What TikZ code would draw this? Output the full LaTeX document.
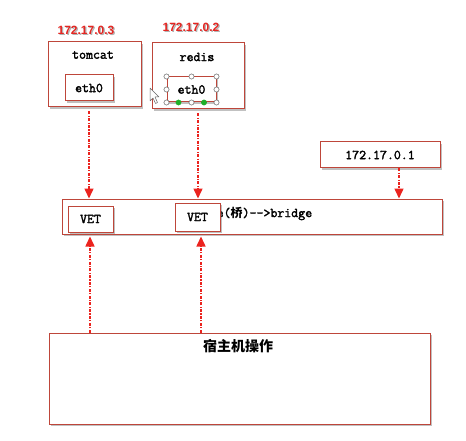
\documentclass[tikz,border=0pt]{standalone}
\usepackage{fontspec}
\setsansfont{Liberation Sans}
\newfontfamily\cjkf{Noto Sans CJK SC}
\newfontfamily\monob{Latin Modern Mono}[FakeBold=2.2]
\usetikzlibrary{shadows,arrows.meta}
\definecolor{bord}{RGB}{190,70,58}
\definecolor{arred}{RGB}{235,35,30}
\definecolor{iptext}{RGB}{228,38,34}
\definecolor{handlegreen}{RGB}{30,175,40}
\begin{document}
\begin{tikzpicture}[x=1pt,y=-1pt,
  box/.style={draw=bord, line width=1pt, fill=white, inner sep=0pt,
    drop shadow={shadow xshift=1.6pt, shadow yshift=-1.6pt, opacity=0.35, fill=black!70}},
  mono/.style={font=\monob\fontsize{13.5}{15}\selectfont, inner sep=0pt},
  iplbl/.style={font=\sffamily\bfseries\fontsize{12}{14}\selectfont, text=iptext, inner sep=0pt},
  ipshadow/.style={font=\sffamily\bfseries\fontsize{12}{14}\selectfont, text=black!30, inner sep=0pt},
  arr/.style={draw=arred, line width=1.5pt, dash pattern=on 3pt off 1.3pt on 1.2pt off 1.3pt,
    -{Triangle[length=10pt,width=9pt]}},
  handle/.style={draw=black!60, fill=white, line width=0.5pt},
  ghandle/.style={draw=handlegreen, fill=handlegreen, line width=0.5pt}]
\useasboundingbox (0,0) rectangle (466,441);

% IP labels
\node[ipshadow] at (87.2,31.2) {172.17.0.3};
\node[iplbl] (ip3) at (86,30) {172.17.0.3};
\node[ipshadow] at (192.2,28.2) {172.17.0.2};
\node[iplbl] (ip2) at (191,27) {172.17.0.2};

% tomcat container
\node[box, minimum width=93pt, minimum height=65pt] (tomcat) at (94.5,74.5) {};
\node[mono] (tomcatlbl) at (93,55) {tomcat};
\node[box, minimum width=48pt, minimum height=26pt] (teth) at (89,88) {};
\node[mono] (tethlbl) at (teth) {eth0};

% redis container
\node[box, minimum width=92pt, minimum height=66pt] (redis) at (198,76) {};
\node[mono] (redislbl) at (197,57) {redis};
\node[box, minimum width=49pt, minimum height=25pt] (reth) at (191.5,89.5) {};
\node[mono] (rethlbl) at (reth) {eth0};
\foreach \p in {north west,north,north east,west,east,south west,south,south east}
  \draw[handle] (reth.\p) circle (2.6pt);
\draw[ghandle] ([xshift=-13pt]reth.south) circle (2.6pt);
\draw[ghandle] ([xshift=12.5pt]reth.south) circle (2.6pt);

% mouse cursor
\draw[draw=black!60, fill=white, line width=0.5pt, line join=round]
  (150,88) -- (150,101) -- (153,98) -- (155.5,103.5) -- (157.5,102.5) -- (155,97) -- (159,97) -- cycle;

% gateway
\node[box, minimum width=120pt, minimum height=26pt] (gw) at (380,155) {};
\node[mono] (gwlbl) at (gw) {172.17.0.1};

% bridge
\node[box, minimum width=380pt, minimum height=35pt] (bridge) at (252,216.5) {};
\node[mono, anchor=west] (btext) at (216.5,213.5) {e({\cjkf\bfseries\fontsize{12}{14}\selectfont 桥})-{}->bridge};

\node[box, minimum width=45pt, minimum height=26pt] (vet1) at (90.5,219) {};
\node[mono] (vet1lbl) at (vet1) {VET};
\node[box, minimum width=45pt, minimum height=28pt] (vet2) at (197.5,217) {};
\node[mono] (vet2lbl) at (vet2) {VET};

% host
\node[box, minimum width=381pt, minimum height=91pt] (host) at (239.5,378.5) {};
\node[font=\cjkf\bfseries\fontsize{14}{16}\selectfont, inner sep=0pt] (hostlbl) at (238,346) {宿主机操作};

% arrows
\coordinate (ta) at ([yshift=-4pt]teth.south |- tomcat.south);
\draw[arr] (ta) -- (ta |- bridge.north);
\coordinate (ra) at ([yshift=-4pt]redis.south);
\draw[arr] (ra) -- (ra |- bridge.north);
\coordinate (ga) at ([xshift=19pt]gw.south);
\draw[arr] (ga) -- (ga |- bridge.north);
\coordinate (v1) at ([xshift=-0.5pt]vet1.south);
\coordinate (h1) at (v1 |- host.north);
\draw[arr] (h1) -- ([yshift=-2pt]h1 |- bridge.south);
\coordinate (v2) at ([xshift=3.5pt]vet2.south);
\coordinate (h2) at (v2 |- host.north);
\draw[arr] (h2) -- ([yshift=-2pt]h2 |- bridge.south);
\end{tikzpicture}
\end{document}
